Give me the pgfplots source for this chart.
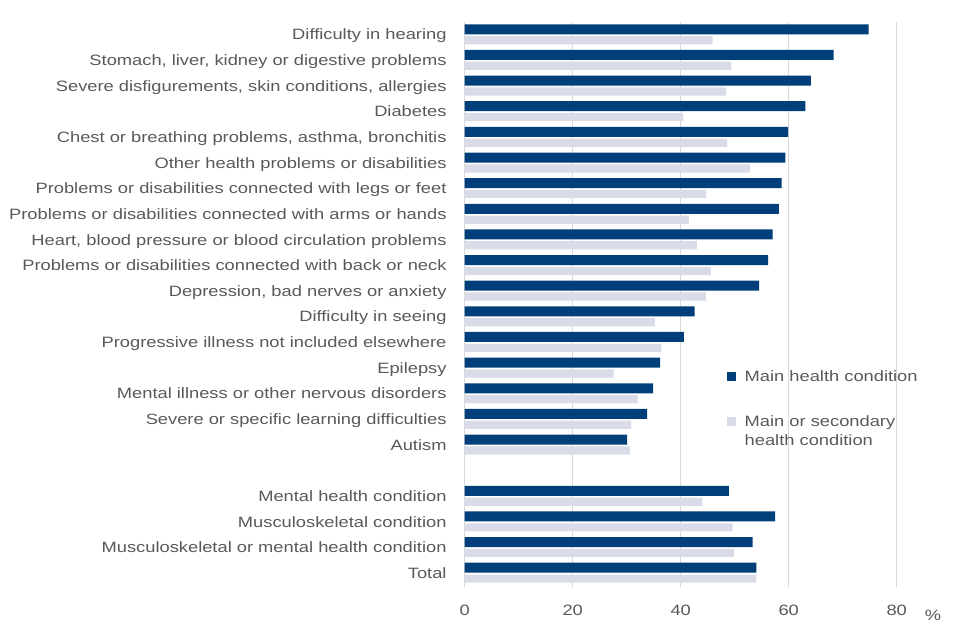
\documentclass[border=0pt]{standalone}
\usepackage{pgfplots}
\pgfplotsset{compat=1.18}
\usepackage{fontspec}
\setmainfont{Liberation Sans}[FakeStretch=1.22]
\definecolor{darkbar}{RGB}{0,63,122}
\definecolor{lightbar}{RGB}{217,220,232}
\definecolor{txt}{RGB}{89,89,89}
\definecolor{gridc}{RGB}{217,217,217}
\begin{document}
\fontsize{15}{18}\selectfont
\begin{tikzpicture}
\useasboundingbox (0,0) rectangle (960pt,640pt);
\begin{axis}[
  at={(464.7pt,53pt)}, anchor=south west,
  width=486pt, height=565pt, scale only axis,
  xbar,
  xmin=0, xmax=90, ymin=-0.546, ymax=21.49,
  axis line style={draw=none},
  major tick length=0pt,
  xtick={0,20,40,60,80},
  xmajorgrids, grid style={gridc, line width=1pt},
  /pgf/number format/assume math mode=true,
  xticklabel style={text=txt, inner sep=0pt, anchor=north, yshift=-17.6pt, text height=10.7pt, text depth=0pt},
  ytick={0,1,2,3,5,6,7,8,9,10,11,12,13,14,15,16,17,18,19,20,21},
  yticklabels={Total,
    Musculoskeletal or mental health condition,
    Musculoskeletal condition,
    Mental health condition,
    Autism,
    Severe or specific learning difficulties,
    Mental illness or other nervous disorders,
    Epilepsy,
    Progressive illness not included elsewhere,
    Difficulty in seeing,
    {Depression, bad nerves or anxiety},
    Problems or disabilities connected with back or neck,
    {Heart, blood pressure or blood circulation problems},
    Problems or disabilities connected with arms or hands,
    Problems or disabilities connected with legs or feet,
    Other health problems or disabilities,
    {Chest or breathing problems, asthma, bronchitis},
    Diabetes,
    {Severe disfigurements, skin conditions, allergies},
    {Stomach, liver, kidney or digestive problems},
    Difficulty in hearing},
  yticklabel style={text=txt, inner sep=0pt, anchor=east, xshift=-18pt, text height=10.7pt, text depth=0pt},
  xlabel={\%},
  xlabel style={at={(rel axis cs:0.9636,-0.0496)}, anchor=center, text=txt, inner sep=0pt, text height=10.7pt, text depth=0pt},
  legend image code/.code={\fill[#1] (0pt,0.8pt) rectangle (9pt,9.8pt);},
  legend style={at={(rel axis cs:0.5397,0.386)}, anchor=north west, draw=none, fill=none,
    inner sep=0pt, row sep=25pt,
    cells={anchor=base west, text=txt, inner sep=0pt},
    /tikz/every odd column/.append style={column sep=6.5pt}},
]
\addplot[fill=darkbar, draw=none, bar width=0.39, bar shift=0.205] coordinates {
 (54.0,0) (53.3,1) (57.5,2) (48.9,3)
 (30.1,5) (33.8,6) (34.9,7) (36.2,8) (40.6,9) (42.6,10) (54.5,11) (56.2,12)
 (57.0,13) (58.2,14) (58.7,15) (59.4,16) (59.9,17) (63.1,18) (64.1,19) (68.3,20) (74.8,21)
};
\addplot[fill=lightbar, draw=none, bar width=0.32, bar shift=-0.22] coordinates {
 (54.0,0) (49.9,1) (49.6,2) (44.0,3)
 (30.6,5) (30.8,6) (32.0,7) (27.6,8) (36.4,9) (35.2,10) (44.7,11) (45.6,12)
 (43.0,13) (41.5,14) (44.7,15) (52.8,16) (48.6,17) (40.5,18) (48.4,19) (49.4,20) (45.9,21)
};
\legend{Main health condition,{\renewcommand\arraystretch{1.07}\begin{tabular}[t]{@{}l@{}}Main or secondary\\health condition\end{tabular}}}
\end{axis}
\end{tikzpicture}
\end{document}
